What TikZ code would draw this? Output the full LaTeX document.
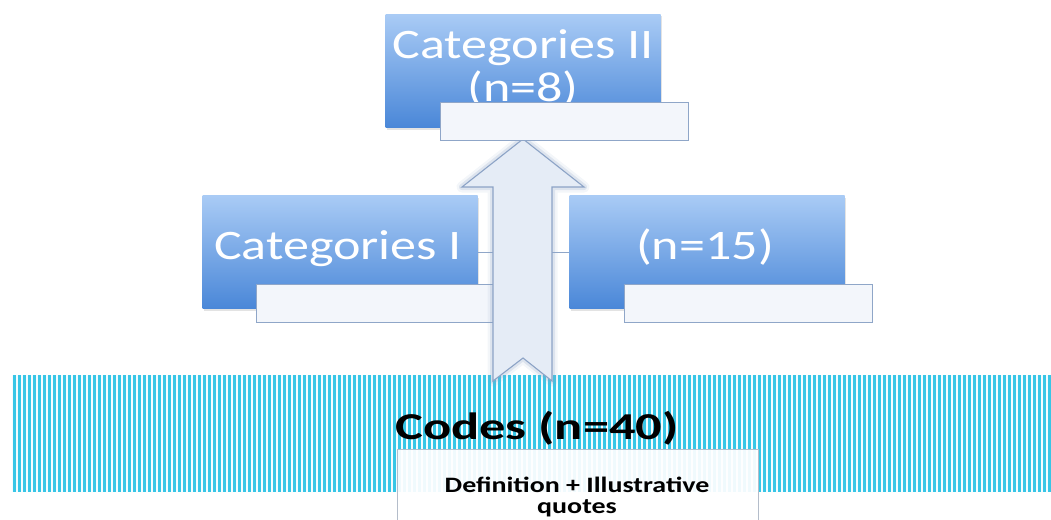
\documentclass[tikz,border=0pt]{standalone}
\usepackage{fontspec}
\setmainfont{Carlito}
\newfontfamily\boxface[FakeStretch=1.24]{Carlito}
\newfontfamily\codeface[FakeStretch=1.38]{Carlito}
\newfontfamily\noteface[FakeStretch=1.27]{Carlito}
\usetikzlibrary{shadows}

\definecolor{boxtop}{HTML}{A9CBF5}
\definecolor{boxbot}{HTML}{4A87D8}
\definecolor{tabedge}{HTML}{8FA6C8}
\definecolor{tabfill}{HTML}{F3F6FB}
\definecolor{stripe}{HTML}{38C6E6}
\definecolor{bandbg}{HTML}{F4FCFF}
\definecolor{arrowfill}{HTML}{E5ECF6}
\definecolor{arrowedge}{HTML}{8CA3C6}
\definecolor{noteedge}{HTML}{B4BDCA}

\begin{document}
\begin{tikzpicture}[x=1pt,y=-1pt,
  catbox/.style={rectangle, draw=none, inner sep=0pt, top color=boxtop, bottom color=boxbot,
    minimum width=275pt, minimum height=113pt,
    drop shadow={shadow xshift=1.5pt, shadow yshift=-2pt, opacity=0.22}},
  tabbox/.style={rectangle, draw=tabedge, line width=0.9pt, fill=tabfill, inner sep=0pt,
    minimum width=248pt, minimum height=38pt},
  cattext/.style={text=white, inner sep=0pt, align=center,
    font=\boxface\fontsize{42}{43}\selectfont},
  link/.style={draw=tabedge, line width=0.9pt},
]
\path[use as bounding box] (0,0) rectangle (1051,519);
\clip (0,0) rectangle (1051,519);

% striped band of codes
\fill[bandbg] (12,375) rectangle (1051,492);
\foreach \x in {14.5,19.5,...,1051}
  \draw[stripe, line width=2.5pt] (\x,375) -- (\x,492);

% category boxes
\node[catbox] (catII) at (523,71) {};
\node[catbox] (catI)  at (340,252) {};
\node[catbox] (catR)  at (707,252) {};

\node[cattext, anchor=north] (catIItext) at (523,29) {Categories II\\(n=8)};
\node[cattext, anchor=base] (catItext) at (338,259) {Categories I};
\node[cattext, anchor=base] (catRtext) at (705,259) {(n=15)};

% white tabs under the side boxes
\node[tabbox] (tabI) at (380,303) {};
\node[tabbox] (tabR) at (748,303) {};

% upward block arrow
\coordinate (tip) at (523,139);
\coordinate (hr) at (584,187);
\coordinate (sr) at (552,187);
\coordinate (br) at (552,381);
\coordinate (notch) at (523,358);
\coordinate (bl) at (493,381);
\coordinate (sl) at (493,187);
\coordinate (hl) at (462,187);
\coordinate (shaftL) at (493,252);
\coordinate (shaftR) at (552,252);

\def\arrowpath{(tip) -- (hr) -- (sr) -- (br) -- (notch) -- (bl) -- (sl) -- (hl) -- cycle}
\draw[arrowedge, line width=11pt, opacity=0.10, line join=round] \arrowpath;
\draw[arrowedge, line width=6pt, opacity=0.22, line join=round] \arrowpath;
\draw[arrowedge, fill=arrowfill, line width=1.1pt, line join=miter] \arrowpath;

% links from the side boxes to the arrow
\draw[link] (catI.east) -- (shaftL);
\draw[link] (shaftR) -- (catR.west);

% white tab under the upper box
\node[tabbox] (tabII) at (564,121) {};

% codes label and note box
\node[anchor=base, inner sep=0pt, font=\codeface\bfseries\fontsize{38}{40}\selectfont] (codes) at (537,439) {Codes (n=40)};
\node[rectangle, draw=noteedge, line width=0.8pt, fill=white, fill opacity=0.93, draw opacity=1,
  minimum width=361pt, minimum height=80pt, inner sep=0pt] (note) at (577.5,489) {};
\node[anchor=north, inner sep=0pt, align=center, font=\noteface\bfseries\fontsize{22}{20.5}\selectfont] (notetext) at (577,477) {Definition + Illustrative\\quotes};
\end{tikzpicture}
\end{document}
